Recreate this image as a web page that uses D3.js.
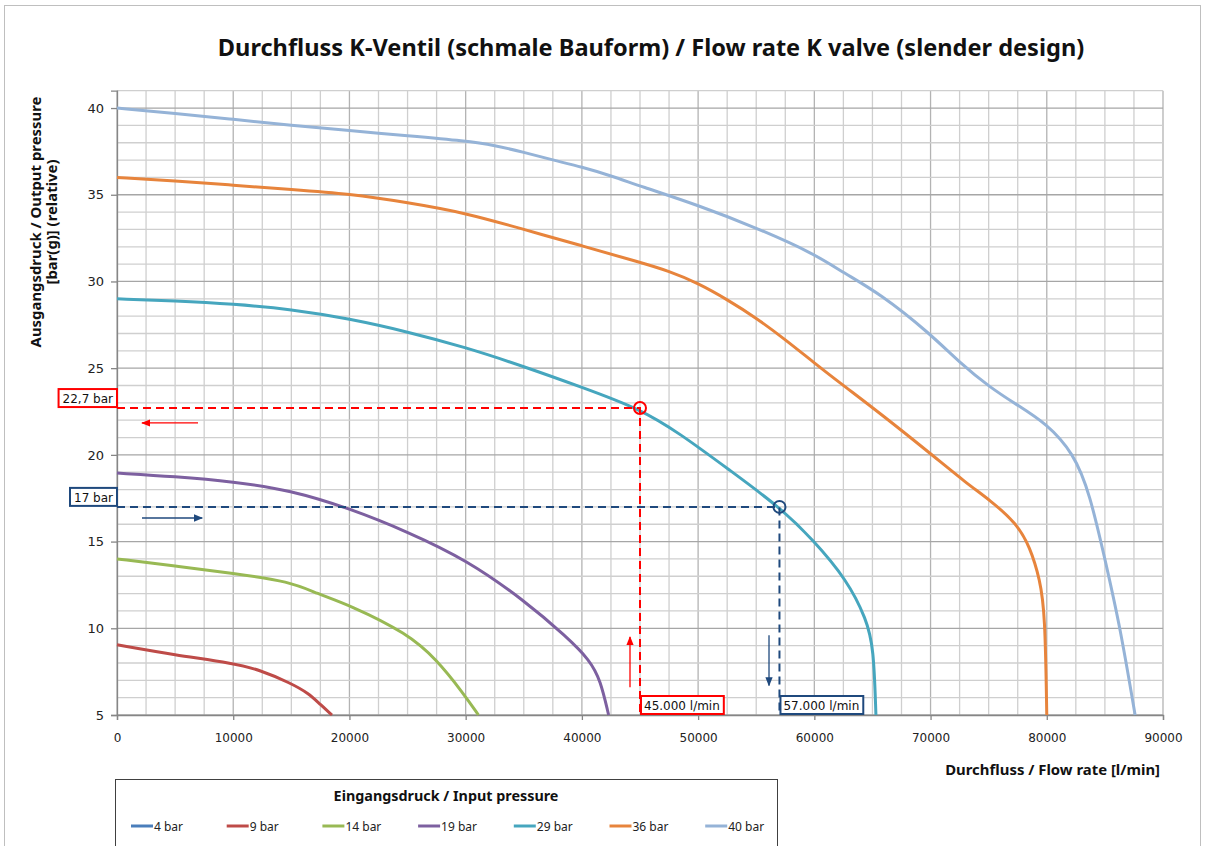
<!DOCTYPE html>
<html>
<head>
<meta charset="utf-8">
<script src="https://cdn.jsdelivr.net/npm/d3@7"></script>
<style>
  body { margin: 0; background: #fff; }
  svg { display: block; }
</style>
</head>
<body>
<svg id="chart" width="1206" height="846"></svg>
<script>
// values: [flow l/min, output pressure bar]
const s4 = [];
const s9 = [[0, 9.05], [5000, 8.46], [10000, 7.98], [12300, 7.6], [14900, 6.85], [16500, 6.25], [17500, 5.6], [18500, 5]];
const s14 = [[0, 14], [5000, 13.6], [10000, 13.17], [14900, 12.7], [17200, 12.0], [20000, 11.35], [25000, 9.7], [27500, 8.2], [29800, 6.25], [31100, 5]];
const s19 = [[0, 18.95], [5000, 18.75], [10000, 18.46], [14900, 17.97], [20000, 16.92], [25000, 15.57], [30100, 13.94], [35000, 11.63], [38700, 9.5], [40700, 8.15], [41600, 7.0], [42300, 5]];
const s29 = [[0, 29], [5000, 28.88], [10000, 28.7], [15000, 28.4], [20000, 27.85], [25000, 27.1], [30000, 26.2], [35000, 25.1], [40000, 23.9], [45000, 22.65], [48400, 21.25], [52750, 19.1], [57000, 17.0], [59900, 15.1], [62800, 12.8], [64500, 10.5], [65100, 8.9], [65300, 5]];
const s36 = [[0, 36], [5000, 35.8], [10000, 35.55], [15000, 35.3], [20000, 35.05], [25000, 34.55], [30000, 33.95], [35000, 33.0], [40000, 32.06], [45000, 31.1], [47500, 30.6], [50000, 29.9], [52500, 28.96], [55000, 27.9], [57500, 26.65], [60000, 25.3], [62500, 24.0], [65650, 22.4], [69950, 20.1], [73100, 18.36], [75100, 17.4], [77400, 16.06], [78550, 14.7], [79420, 12.8], [79850, 10.86], [80000, 5]];
const s40 = [[0, 40], [5000, 39.7], [10000, 39.35], [15000, 39.0], [20000, 38.7], [25000, 38.4], [30000, 38.1], [32500, 37.85], [35000, 37.45], [37500, 37.0], [40000, 36.6], [42500, 36.1], [45000, 35.5], [50000, 34.4], [55000, 33.1], [60000, 31.6], [62500, 30.5], [65650, 29.3], [69950, 27.0], [72530, 25.3], [75100, 23.9], [77400, 22.9], [80000, 21.8], [82300, 20.1], [83700, 17.8], [85150, 13.55], [86300, 10.1], [87600, 5]];

const seriesNames = ["4 bar", "9 bar", "14 bar", "19 bar", "29 bar", "36 bar", "40 bar"];
const seriesData = [s4, s9, s14, s19, s29, s36, s40];
const seriesColors = ["#4A7EBB", "#BE4B48", "#98B954", "#7D60A0", "#46A6BE", "#E7843C", "#95B3D7"];

const xTicks = [0, 10000, 20000, 30000, 40000, 50000, 60000, 70000, 80000, 90000];
const yTicks = [5, 10, 15, 20, 25, 30, 35, 40];

// worked examples: operating points with their read-off lines
const examples = [
  {flow: 45000, pressure: 22.7, color: "#FF0000", pLabel: "22,7 bar", fLabel: "45.000 l/min",
   hArrow: [[6970, 21.84], [2150, 21.84]], vArrow: [[44140, 6.6], [44140, 9.5]]},
  {flow: 57000, pressure: 17, color: "#1F497D", pLabel: "17 bar", fLabel: "57.000 l/min",
   hArrow: [[2150, 16.36], [7330, 16.36]], vArrow: [[56100, 9.6], [56100, 6.7]]}
];

const svg = d3.select("#chart");
const font = "'DejaVu Sans', Verdana, sans-serif";
const boldFont = "'Noto Sans', 'Open Sans', sans-serif";

const x = d3.scaleLinear().domain([0, 90000]).range([117, 1163]);
const y = d3.scaleLinear().domain([5, 41]).range([715, 90.7]);

// fits a text element to a measured width by changing its font size
function fit(t, w) {
  const cur = t.node().getComputedTextLength();
  t.attr("font-size", parseFloat(t.attr("font-size")) * w / cur);
}

// outer frame
svg.append("rect").attr("x", 4.5).attr("y", 5.5).attr("width", 1196).attr("height", 860)
  .attr("fill", "none").attr("stroke", "#BFBFBF");

// arrowheads
const defs = svg.append("defs");
examples.forEach((e, i) => {
  defs.append("marker").attr("id", "ah" + i)
    .attr("viewBox", "0 0 10 10").attr("refX", 9).attr("refY", 5)
    .attr("markerWidth", 7).attr("markerHeight", 7).attr("orient", "auto")
    .append("path").attr("d", "M0,1L10,5L0,9Z").attr("fill", e.color);
});

// grid
const grid = svg.append("g");
grid.selectAll(".vx").data(d3.range(0, 90001, 2500)).join("line")
  .attr("x1", d => x(d)).attr("x2", d => x(d))
  .attr("y1", y(5)).attr("y2", y(41))
  .attr("stroke", d => d % 10000 === 0 ? "#B3B3B3" : "#CFCFCF").attr("stroke-width", 1.3);
grid.selectAll(".hy").data(d3.range(5, 41.5, 1)).join("line")
  .attr("x1", x(0)).attr("x2", x(90000))
  .attr("y1", d => y(d)).attr("y2", d => y(d))
  .attr("stroke", d => d % 5 === 0 ? "#A6A6A6" : "#CFCFCF").attr("stroke-width", 1.3);

// axes
const xAxis = svg.append("g").attr("transform", `translate(0,${y(5)})`)
  .call(d3.axisBottom(x).tickValues(xTicks).tickFormat(d3.format("d")).tickSize(5).tickPadding(13));
const yAxis = svg.append("g").attr("transform", `translate(${x(0)},0)`)
  .call(d3.axisLeft(y).tickValues(yTicks).tickFormat(d3.format("d")).tickSize(6).tickPadding(7));
[xAxis, yAxis].forEach(a => {
  a.select(".domain").attr("stroke", "#868686").attr("stroke-width", 1.3);
  a.selectAll(".tick line").attr("stroke", "#868686").attr("stroke-width", 1.3);
  a.selectAll("text").attr("fill", "#222").attr("font-family", font);
});
xAxis.selectAll("text").attr("font-size", 12);
yAxis.selectAll("text").attr("font-size", 13);

// curves (smoothed like the spreadsheet lines)
const line = d3.line().x(d => x(d[0])).y(d => y(d[1])).curve(d3.curveBasis);
svg.append("g").selectAll("path").data(seriesData.filter(d => d.length)).join("path")
  .attr("d", line)
  .attr("fill", "none")
  .attr("stroke", d => seriesColors[seriesData.indexOf(d)])
  .attr("stroke-width", 3)
  .attr("stroke-linejoin", "round");

// worked examples
const ex = svg.append("g");
examples.forEach((e, i) => {
  const g = ex.append("g");
  const px = x(e.flow), py = y(e.pressure);
  g.append("path")
    .attr("d", `M${x(0)},${py}H${px}V${y(5)}`)
    .attr("fill", "none").attr("stroke", e.color).attr("stroke-width", 2)
    .attr("stroke-dasharray", "8,5");
  g.append("circle").attr("cx", px).attr("cy", py).attr("r", 6)
    .attr("fill", "none").attr("stroke", e.color).attr("stroke-width", 2);
  [e.hArrow, e.vArrow].forEach(a => {
    g.append("line")
      .attr("x1", x(a[0][0])).attr("y1", y(a[0][1]))
      .attr("x2", x(a[1][0])).attr("y2", y(a[1][1]))
      .attr("stroke", e.color).attr("stroke-width", 1.3)
      .attr("marker-end", `url(#ah${i})`);
  });

  // pressure label left of the axis
  const pt = g.append("text").attr("font-family", font).attr("font-size", 12).attr("fill", "#111")
    .attr("text-anchor", "end").attr("x", x(0) - 4).attr("y", py - 5).text(e.pLabel);
  const pw = pt.node().getComputedTextLength();
  g.insert("rect", "text").attr("x", x(0) - pw - 8).attr("y", py - 19)
    .attr("width", pw + 8).attr("height", 18)
    .attr("fill", "#fff").attr("stroke", e.color).attr("stroke-width", 2);

  // flow label on the x axis
  const ft = g.append("text").attr("font-family", font).attr("font-size", 12).attr("fill", "#111")
    .attr("x", px + 4).attr("y", y(5) - 5).text(e.fLabel);
  const fw = ft.node().getComputedTextLength();
  g.insert("rect", "text").attr("x", px + 1).attr("y", y(5) - 19)
    .attr("width", fw + 7).attr("height", 18)
    .attr("fill", "#fff").attr("stroke", e.color).attr("stroke-width", 2);
});

// titles
const title = svg.append("text").attr("x", 651).attr("y", 56).attr("text-anchor", "middle")
  .attr("font-family", boldFont).attr("font-weight", "bold").attr("font-size", 22).attr("fill", "#111")
  .text("Durchfluss K-Ventil (schmale Bauform) / Flow rate K valve (slender design)");
fit(title, 867);

const yt1 = svg.append("text").attr("transform", "translate(41,222) rotate(-90)").attr("text-anchor", "middle")
  .attr("font-family", boldFont).attr("font-weight", "bold").attr("font-size", 14).attr("fill", "#111")
  .text("Ausgangsdruck  / Output pressure");
fit(yt1, 251);
const yt2 = svg.append("text").attr("transform", "translate(57,222) rotate(-90)").attr("text-anchor", "middle")
  .attr("font-family", boldFont).attr("font-weight", "bold").attr("font-size", 14).attr("fill", "#111")
  .text("[bar(g)] (relative)");
fit(yt2, 125);

const xt = svg.append("text").attr("x", 1160).attr("y", 775).attr("text-anchor", "end")
  .attr("font-family", boldFont).attr("font-weight", "bold").attr("font-size", 14).attr("fill", "#111")
  .text("Durchfluss  / Flow rate [l/min]");
fit(xt, 215);

// legend
const lg = svg.append("g");
lg.append("rect").attr("x", 115.5).attr("y", 779.5).attr("width", 662).attr("height", 90)
  .attr("fill", "#fff").attr("stroke", "#404040").attr("stroke-width", 1);
const lt = lg.append("text").attr("x", 446).attr("y", 801).attr("text-anchor", "middle")
  .attr("font-family", boldFont).attr("font-weight", "bold").attr("font-size", 14).attr("fill", "#111")
  .text("Eingangsdruck / Input pressure");
fit(lt, 225);
const items = lg.selectAll(".item").data(seriesNames).join("g")
  .attr("transform", (d, i) => `translate(${131 + i * 95.7},826)`);
items.append("line").attr("x1", 0).attr("x2", 22).attr("stroke", (d, i) => seriesColors[i]).attr("stroke-width", 3);
items.append("text").attr("x", 23).attr("y", 4.5).attr("font-family", boldFont).attr("font-size", 12)
  .attr("fill", "#222").text(d => d);
</script>
</body>
</html>
